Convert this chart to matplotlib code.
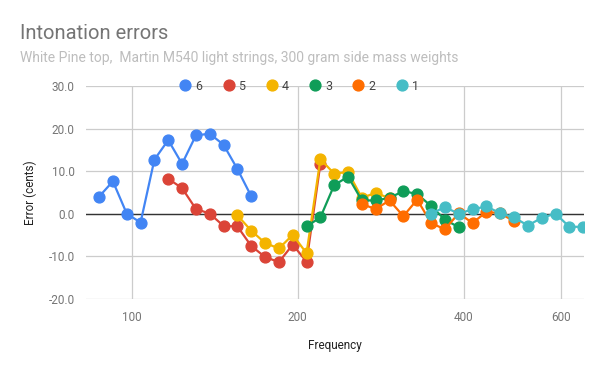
import matplotlib
matplotlib.use("Agg")
import matplotlib.pyplot as plt
from matplotlib.ticker import FixedLocator, NullLocator, FixedFormatter

plt.rcParams["font.family"] = ["Roboto", "DejaVu Sans"]

# fret 1..12 frequencies (Hz) for each string
freq_6 = [87.31, 92.50, 98.00, 103.83, 110.00, 116.54, 123.47, 130.81, 138.59, 146.83, 155.56, 164.81]
freq_5 = [116.54, 123.47, 130.81, 138.59, 146.83, 155.56, 164.81, 174.61, 185.00, 196.00, 207.65, 220.00]
freq_4 = [155.56, 164.81, 174.61, 185.00, 196.00, 207.65, 220.00, 233.08, 246.94, 261.63, 277.18, 293.66]
freq_3 = [207.65, 220.00, 233.08, 246.94, 261.63, 277.18, 293.66, 311.13, 329.63, 349.23, 369.99, 392.00]
freq_2 = [261.63, 277.18, 293.66, 311.13, 329.63, 349.23, 369.99, 392.00, 415.30, 440.00, 466.16, 493.88]
freq_1 = [349.23, 369.99, 392.00, 415.30, 440.00, 466.16, 493.88, 523.25, 554.37, 587.33, 622.25, 659.26]

# intonation error in cents
err_6 = [4.0, 7.6, 0.0, -2.1, 12.7, 17.3, 11.7, 18.4, 18.8, 16.2, 10.5, 4.1]
err_5 = [8.2, 6.0, 1.1, 0.0, -2.9, -3.0, -7.6, -10.2, -11.4, -7.3, -11.3, 11.7]
err_4 = [-0.4, -4.0, -6.9, -8.2, -5.0, -9.3, 12.8, 9.4, 9.8, 3.7, 4.9, 3.6]
err_3 = [-3.0, -0.9, 6.7, 8.7, 3.1, 3.1, 3.7, 5.3, 4.6, 1.8, -1.4, -3.2]
err_2 = [2.2, 1.1, 3.1, -0.6, 3.3, -2.2, -3.7, 0.1, -2.2, 0.4, 0.1, -1.8]
err_1 = [0.0, 1.5, 0.0, 1.0, 1.7, 0.1, -0.9, -2.8, -1.0, 0.0, -3.1, -3.1]

labels = ["6", "5", "4", "3", "2", "1"]
colors = ["#4285F4", "#DB4437", "#F4B400", "#0F9D58", "#FF6D00", "#46BDC6"]
xticks = [100, 200, 400, 600]
yticks = [-20, -10, 0, 10, 20, 30]

fig = plt.figure(figsize=(6, 3.71), dpi=100)
ax = fig.add_axes([0.143, 0.195, 0.83, 0.573])

series = [(freq_6, err_6), (freq_5, err_5), (freq_4, err_4),
          (freq_3, err_3), (freq_2, err_2), (freq_1, err_1)]
for (f, e), lab, c in zip(series, labels, colors):
    ax.plot(f, e, color=c, lw=1.6, marker="o", ms=7.8, label=lab, zorder=3)

ax.set_xscale("log")
ax.set_xlim(82.6, 661)
ax.set_ylim(-20, 30)
ax.xaxis.set_major_locator(FixedLocator(xticks))
ax.xaxis.set_major_formatter(FixedFormatter([str(v) for v in xticks]))
ax.xaxis.set_minor_locator(NullLocator())
ax.set_yticks(yticks)
ax.set_yticklabels([f"{v:.1f}" for v in yticks])

ax.grid(True, color="#cccccc", lw=0.9)
ax.axhline(0, color="#333333", lw=1.0, zorder=2)
for s in ax.spines.values():
    s.set_visible(False)
ax.tick_params(length=0, colors="#757575", labelsize=8.5)
ax.tick_params(axis="x", pad=9)
ax.tick_params(axis="y", pad=8)

ax.set_xlabel("Frequency", color="#222222", fontsize=8.5, labelpad=11)
ax.set_ylabel("Error (cents)", color="#222222", fontsize=8.5, labelpad=8)

fig.text(0.033, 0.895, "Intonation errors", color="#757575", fontsize=14.5)
fig.text(0.033, 0.832, "White Pine top,  Martin M540 light strings, 300 gram side mass weights",
         color="#bdbdbd", fontsize=10)

leg = ax.legend(loc="center", bbox_to_anchor=(0.429, 1.0), ncol=6, frameon=False,
                handlelength=0.8, handletextpad=0.4, columnspacing=1.7,
                fontsize=9, borderaxespad=0)
for h in leg.legend_handles:
    h.set_linestyle("none")
for t in leg.get_texts():
    t.set_color("#444444")

fig.savefig("out.png", dpi=100)
